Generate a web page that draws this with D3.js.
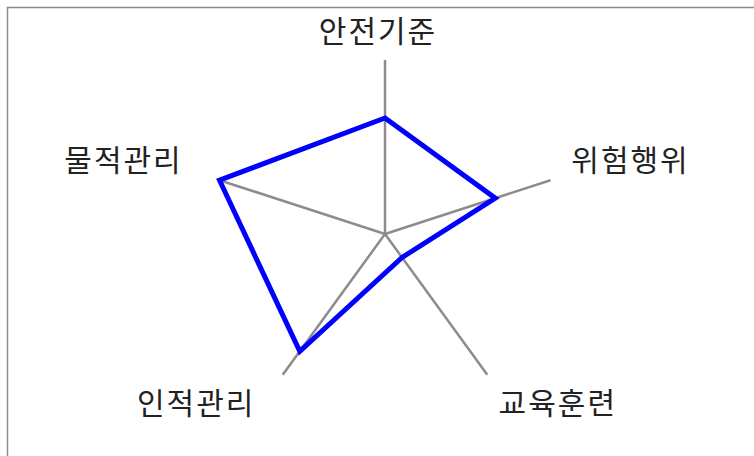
<!DOCTYPE html>
<meta charset="utf-8">
<html>
  <head>
    <title>radar</title>
    <style>
      body { margin: 0; background: #fff; }
      .axis { stroke: #8c8c8c; stroke-width: 2.5px; }
      .area { fill: none; stroke: #0000ff; stroke-width: 5px; stroke-linejoin: miter; }
      .label { font-family: "Noto Sans CJK KR", sans-serif; font-size: 30px; letter-spacing: 2px; fill: #222; }
      .frame { fill: none; stroke: #8c8c8c; stroke-width: 1.5px; }
    </style>
  </head>
  <body>
    <script src="https://d3js.org/d3.v7.min.js"></script>
    <script>

      // data
      var categories = ["안전기준", "위험행위", "교육훈련", "인적관리", "물적관리"];
      var values = [4, 4, 1, 5, 6];
      var maxValue = 6;

      var width = 754, height = 456;
      var cx = 385, cy = 234, radius = 174;

      var svg = d3.select("body").append("svg")
          .attr("width", width)
          .attr("height", height);

      svg.append("rect")
          .attr("class", "frame")
          .attr("x", 7.5).attr("y", 7.5)
          .attr("width", width).attr("height", height);

      var r = d3.scaleLinear().domain([0, maxValue]).range([0, radius]);
      var angle = d3.scalePoint().domain(categories).range([0, 2 * Math.PI * 4 / 5]);

      var g = svg.append("g")
          .attr("transform", "translate(" + cx + "," + cy + ")");

      g.selectAll(".axis")
        .data(categories)
        .enter().append("line")
          .attr("class", "axis")
          .attr("x1", 0).attr("y1", 0)
          .attr("x2", function(d) { return r(maxValue) * Math.sin(angle(d)); })
          .attr("y2", function(d) { return -r(maxValue) * Math.cos(angle(d)); });

      var line = d3.lineRadial()
          .angle(function(d, i) { return angle(categories[i]); })
          .radius(function(d) { return r(d); })
          .curve(d3.curveLinearClosed);

      g.append("path")
          .datum(values)
          .attr("class", "area")
          .attr("d", line);

      var lr = r(maxValue) * 1.15;
      g.selectAll(".label")
        .data(categories)
        .enter().append("text")
          .attr("class", "label")
          .attr("text-anchor", function(d) {
            var s = Math.sin(angle(d));
            return s > 0.1 ? "start" : (s < -0.1 ? "end" : "middle");
          })
          .attr("x", function(d) {
            var s = Math.sin(angle(d));
            var shift = s > 0.1 ? -4 : (s < -0.1 ? -12 : -7);
            return lr * s + shift;
          })
          .attr("y", function(d) {
            var c = Math.cos(angle(d));
            var shift = c > 0.9 ? 8 : (c > 0 ? -1 : 18);
            return -lr * c + shift;
          })
          .text(function(d) { return d; });

    </script>
  </body>
</html>
